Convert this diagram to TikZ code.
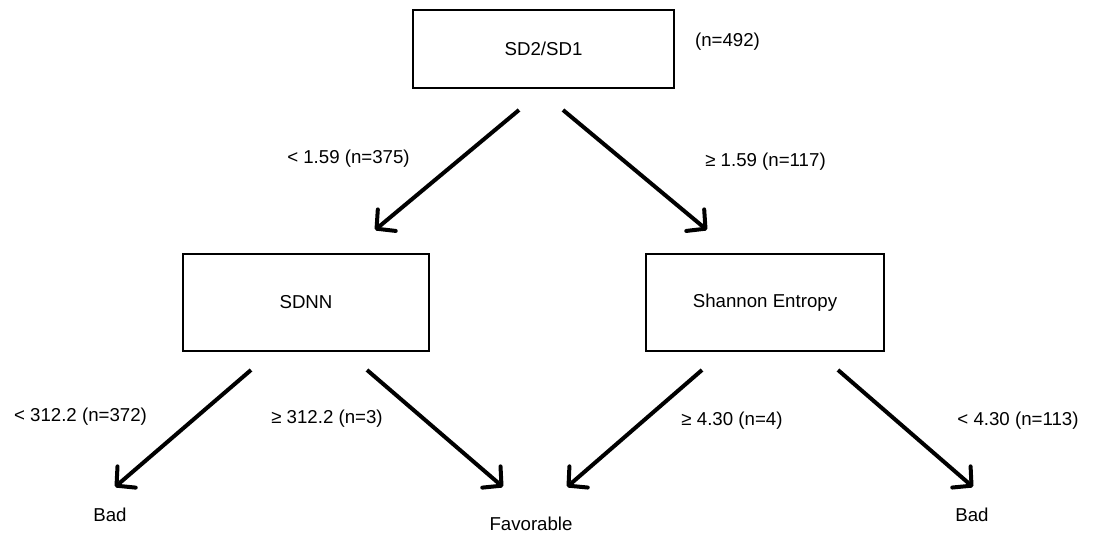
\documentclass[tikz,border=0pt]{standalone}
\usepackage{fontspec}
\setmainfont{Liberation Sans}
\usetikzlibrary{arrows.meta}
\begin{document}
\begin{tikzpicture}[x=0.75pt,y=-0.75pt,
  every node/.style={font=\fontsize{14}{16}\selectfont, inner sep=0pt},
  splitbox/.style={draw, line width=1.9pt, minimum height=72.75pt},
  edgetxt/.style={anchor=center},
  leaftxt/.style={anchor=center},
  branch/.style={line width=3pt, -{Straight Barb[length=10pt,width=21pt,line cap=round,line join=round]}}
]
\useasboundingbox (0,0) rectangle (1094,534);
% split boxes
\node[splitbox, minimum width=195.75pt, minimum height=58.5pt] (root) at (543.5,49) {SD2/SD1};
\node[splitbox, minimum width=184.5pt] (sdnn) at (306,302.5) {SDNN};
\node[splitbox, minimum width=178.5pt] (shan) at (765,302.5) {Shannon Entropy};
% leaves
\node[leaftxt] (bad1) at (110,515) {Bad};
\node[leaftxt] (fav) at (531,524) {Favorable};
\node[leaftxt] (bad2) at (972,515) {Bad};
% counts and split labels
\node[edgetxt] (nall) at (727.5,42) {(n=492)};
\node[edgetxt] (lroot) at (348.5,159) {< 1.59 (n=375)};
\node[edgetxt] (rroot) at (765.5,162) {≥ 1.59 (n=117)};
\node[edgetxt] (lsdnn) at (80.5,417) {< 312.2 (n=372)};
\node[edgetxt] (rsdnn) at (327,419) {≥ 312.2 (n=3)};
\node[edgetxt] (lshan) at (732,421) {≥ 4.30 (n=4)};
\node[edgetxt] (rshan) at (1018,421) {< 4.30 (n=113)};
% connector end points
\coordinate (rootL) at (519,110);
\coordinate (rootR) at (563,110);
\coordinate (sdnnIn) at (375,230);
\coordinate (shanIn) at (707,230);
\coordinate (sdnnL) at (251,370);
\coordinate (sdnnR) at (367,370);
\coordinate (shanL) at (702,370);
\coordinate (shanR) at (838,370);
\coordinate (bad1In) at (115,487);
\coordinate (favInL) at (503,487);
\coordinate (favInR) at (567,487);
\coordinate (bad2In) at (973,487);
% connectors
\draw[branch] (rootL) -- (sdnnIn);
\draw[branch] (rootR) -- (shanIn);
\draw[branch] (sdnnL) -- (bad1In);
\draw[branch] (sdnnR) -- (favInL);
\draw[branch] (shanL) -- (favInR);
\draw[branch] (shanR) -- (bad2In);
\end{tikzpicture}
\end{document}
